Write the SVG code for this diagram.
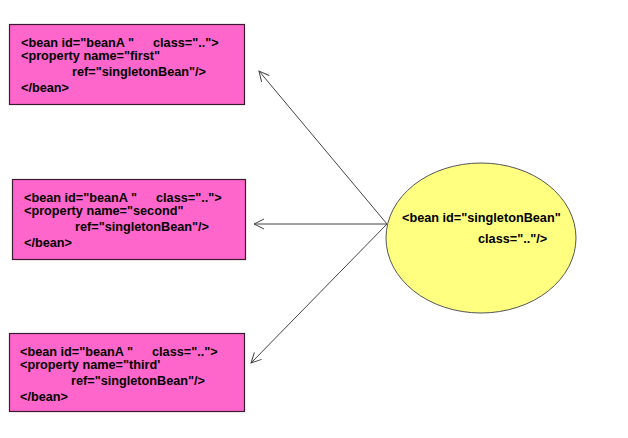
<svg xmlns="http://www.w3.org/2000/svg" width="628" height="438" viewBox="0 0 628 438">
<style>
.box{fill:#FF66CC;stroke:#3a1a30;stroke-width:1.2}
.ell{fill:#FFFF80;stroke:#555;stroke-width:1}
.t{font-family:"Liberation Sans",Arial,sans-serif;font-size:12.7px;font-weight:bold;fill:#000}
.c{stroke:#444;stroke-width:1;fill:none}
</style>
<defs>
<marker id="ah" viewBox="0 0 12 12" refX="11" refY="6" markerWidth="12" markerHeight="12" markerUnits="userSpaceOnUse" orient="auto">
<path d="M1,1 L11,6 L1,11" fill="none" stroke="#444" stroke-width="1"/>
</marker>
</defs>
<rect width="628" height="438" fill="#fff"/>
<g id="connectors">
<line class="c" x1="387" y1="224" x2="259" y2="71" marker-end="url(#ah)"/>
<line class="c" x1="387" y1="224" x2="254" y2="224" marker-end="url(#ah)"/>
<line class="c" x1="387" y1="224" x2="251" y2="363" marker-end="url(#ah)"/>
</g>
<g id="beanFirst">
<rect class="box" x="9.5" y="24.5" width="235" height="80"/>
<text class="t" x="21" y="47">&lt;bean id="beanA "</text>
<text class="t" x="153" y="47">class=".."&gt;</text>
<text class="t" x="21" y="60">&lt;property name="first"</text>
<text class="t" x="72" y="76">ref="singletonBean"/&gt;</text>
<text class="t" x="21" y="92">&lt;/bean&gt;</text>
</g>
<g id="beanSecond">
<rect class="box" x="12.5" y="179.5" width="233" height="80"/>
<text class="t" x="24" y="202">&lt;bean id="beanA "</text>
<text class="t" x="156" y="202">class=".."&gt;</text>
<text class="t" x="24" y="215">&lt;property name="second"</text>
<text class="t" x="75" y="231">ref="singletonBean"/&gt;</text>
<text class="t" x="24" y="247">&lt;/bean&gt;</text>
</g>
<g id="beanThird">
<rect class="box" x="9.5" y="333.5" width="235" height="78"/>
<text class="t" x="20" y="356">&lt;bean id="beanA "</text>
<text class="t" x="152" y="356">class=".."&gt;</text>
<text class="t" x="20" y="369">&lt;property name="third'</text>
<text class="t" x="71" y="385">ref="singletonBean"/&gt;</text>
<text class="t" x="20" y="401">&lt;/bean&gt;</text>
</g>
<g id="singletonBean">
<ellipse class="ell" cx="481" cy="238" rx="95" ry="75"/>
<text class="t" x="402" y="222">&lt;bean id="singletonBean"</text>
<text class="t" x="478" y="243">class=".."/&gt;</text>
</g>
</svg>
